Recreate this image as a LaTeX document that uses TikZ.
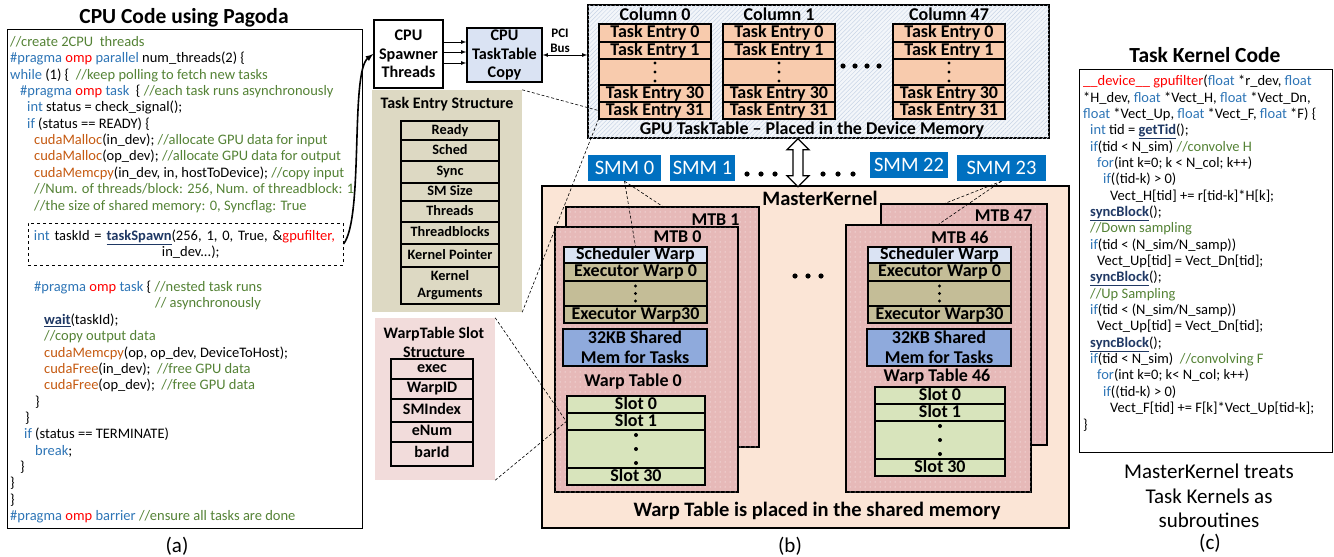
\documentclass[tikz,border=0pt]{standalone}
\usepackage{fontspec}
\setmainfont{Carlito}
\usepackage{xcolor}
\usepackage{tikz}
\usetikzlibrary{patterns.meta}
\usetikzlibrary{calc}

\definecolor{cmtgreen}{RGB}{84,130,53}
\definecolor{kwblue}{RGB}{46,117,182}
\definecolor{ompred}{RGB}{255,0,0}
\definecolor{cubrown}{RGB}{197,90,17}
\definecolor{apinavy}{RGB}{31,56,100}
\definecolor{entrypeach}{RGB}{248,203,173}
\definecolor{gpubg}{RGB}{243,246,250}
\definecolor{gpuhatch}{RGB}{200,212,230}
\definecolor{smmblue}{RGB}{0,112,192}
\definecolor{masterbg}{RGB}{251,229,214}
\definecolor{mtbpink}{RGB}{230,185,184}
\definecolor{schedblue}{RGB}{218,227,243}
\definecolor{exectan}{RGB}{196,189,151}
\definecolor{shmemblue}{RGB}{143,170,220}
\definecolor{slotgreen}{RGB}{216,228,188}
\definecolor{entrybg}{RGB}{221,217,195}
\definecolor{slotbg}{RGB}{242,220,219}
\definecolor{copyblue}{RGB}{218,227,243}

% code colouring
\newcommand{\cmt}[1]{\textcolor{cmtgreen}{#1}}
\newcommand{\kw}[1]{\textcolor{kwblue}{#1}}
\newcommand{\omp}{\textcolor{ompred}{omp}}
\newcommand{\cu}[1]{\textcolor{cubrown}{#1}}
\newcommand{\api}[1]{\textcolor{apinavy}{\underline{\textbf{#1}}}}
\newcommand{\ind}[1]{\hspace*{#1pt}}

% fonts
\newcommand{\codefont}{\fontsize{14.5}{16.35}\selectfont}
\newcommand{\headfont}{\fontsize{21.5}{24}\selectfont\bfseries}
\newcommand{\capfont}{\fontsize{21}{24.5}\selectfont}
\newcommand{\cellfont}{\fontsize{18}{20}\selectfont\bfseries}
\newcommand{\shmfont}{\fontsize{18}{20}\selectfont\bfseries}
\newcommand{\boxfont}{\fontsize{16.2}{18.5}\selectfont\bfseries}
\newcommand{\fieldfont}{\fontsize{14.3}{17}\selectfont\bfseries}
\newcommand{\slotfont}{\fontsize{16}{19}\selectfont\bfseries}
\newcommand{\notefont}{\fontsize{20.5}{22}\selectfont\bfseries}
\newcommand{\gpufont}{\fontsize{18}{20}\selectfont\bfseries}
\newcommand{\smmfont}{\fontsize{20.5}{22}\selectfont}
\newcommand{\pcifont}{\fontsize{13}{15}\selectfont\bfseries}

\begin{document}
\begin{tikzpicture}[x=1pt,y=-1pt,
    frame/.style={draw, line width=1pt, inner sep=0pt},
    cell/.style={draw, line width=1.3pt, inner sep=0pt, font=\cellfont, text height=12.5pt, text depth=3.5pt},
    field/.style={draw, line width=1.3pt, inner sep=0pt, font=\fieldfont, text height=10pt, text depth=3pt},
    slotfield/.style={draw, line width=1.3pt, inner sep=0pt, font=\slotfont, text height=11pt, text depth=3.5pt},
    code/.style={anchor=base west, inner sep=0pt, align=left, font=\codefont},
    leader/.style={dash pattern=on 3pt off 2pt, line width=0.6pt},
    mtbbox/.style={draw, line width=1.3pt, inner sep=0pt, fill=mtbpink,
        postaction={pattern={Dots[distance=5pt,radius=0.5pt]}, pattern color=white}},
    smm/.style={fill=smmblue, text=white, inner sep=0pt, font=\smmfont, minimum height=26}]

\useasboundingbox (0,0) rectangle (1334,557);

%% (a) host side code  (code blocks are placed by their last baseline)
\node[font=\headfont] (titleA) at (184,18) {CPU Code using Pagoda};
\node[frame, minimum width=355, minimum height=499] (codeA) at (184.5,278.5) {};
\node[code] (codeTop) at (10,210) {%
\cmt{//create 2CPU\ \ threads}\\
\kw{\#pragma} \omp{} \kw{parallel} num\_threads(2) \{\\
\kw{while} (1) \{\ \ \cmt{//keep polling to fetch new tasks}\\
\ind{10}\kw{\#pragma} \omp{} \kw{task}\ \ \{ \cmt{//each task runs asynchronously}\\
\ind{17}\kw{int} status = check\_signal();\\
\ind{17}\kw{if} (status == READY) \{\\
\ind{24}\cu{cudaMalloc}(in\_dev); \cmt{//allocate GPU data for input}\\
\ind{24}\cu{cudaMalloc}(op\_dev); \cmt{//allocate GPU data for output}\\
\ind{24}\cu{cudaMemcpy}(in\_dev, in, hostToDevice); \cmt{//copy input}\\
\ind{24}\cmt{//Num. of threads/block: 256, Num. of threadblock: 1}\\
\ind{24}\cmt{//the size of shared memory: 0, Syncflag: True}};
\node[draw, dashed, line width=1pt, inner xsep=6pt, inner ysep=0pt, minimum height=42,
      text width=303pt, align=left, font=\codefont] (spawn) at (185.5,244) {%
\kw{int} taskId = \api{taskSpawn}(256, 1, 0, True, \&\textcolor{ompred}{gpufilter,}\\
\ind{128}in\_dev...);};
\node[code] (codeBot) at (10,520.5) {%
\ind{24}\kw{\#pragma} \omp{} \kw{task} \{ \cmt{//nested task runs}\\
\ind{145}\cmt{// asynchronously}\\
\ind{34}\api{wait}(taskId);\\
\ind{34}\cmt{//copy output data}\\
\ind{34}\cu{cudaMemcpy}(op, op\_dev, DeviceToHost);\\
\ind{34}\cu{cudaFree}(in\_dev);\ \ \cmt{//free GPU data}\\
\ind{34}\cu{cudaFree}(op\_dev);\ \ \cmt{//free GPU data}\\
\ind{25}\}\\
\ind{15}\}\\
\ind{14}\kw{if} (status == TERMINATE)\\
\ind{25}\kw{break};\\
\ind{10}\}\\
\ind{0}\}\\
\ind{0}\}\\
\kw{\#pragma} \omp{} \kw{barrier} \cmt{//ensure all tasks are done}};
\node[font=\capfont] (labA) at (177,546) {(a)};

%% (b) runtime structures
\node[frame, line width=1.5pt, minimum width=69, minimum height=68, align=center, font=\boxfont] (spawner) at (408.5,54) {CPU\\Spawner\\Threads};
\node[frame, line width=1.5pt, fill=copyblue, minimum width=75, minimum height=54, align=center, font=\boxfont] (copy) at (504.5,55) {CPU\\TaskTable\\Copy};
\foreach \yy in {42,52,63}
  \draw[-latex, line width=0.8pt] (spawner.east |- 0,\yy) -- (copy.west |- 0,\yy);
\draw[-latex, line width=1.6pt] (spawn.east) .. controls (364,218) and (350,72) .. (spawner.west);

% GPU task table
\node[frame, line width=1.5pt, fill=gpubg, minimum width=461, minimum height=133,
      postaction={pattern={Lines[angle=45,distance=3pt,line width=0.5pt]}, pattern color=gpuhatch}] (gpu) at (818.5,71.5) {};
\node[font=\pcifont] (pci) at (560,33) {PCI};
\node[font=\pcifont] (bus) at (560,48) {Bus};
\draw[latex-latex, line width=0.8pt] (copy.east) -- (gpu.west |- copy.east);
\foreach \cx/\cn in {655/0,779/1,949/47} {
  \node[font=\cellfont] (col\cn) at (\cx,14) {Column \cn};
  \node[cell, fill=entrypeach, minimum width=112, minimum height=18] (c\cn-0) at (\cx,33) {Task Entry 0};
  \node[cell, fill=entrypeach, minimum width=112, minimum height=17] (c\cn-1) at (\cx,50.5) {Task Entry 1};
  \node[cell, fill=entrypeach, minimum width=112, minimum height=26] (c\cn-d) at (\cx,72) {};
  \node[cell, fill=entrypeach, minimum width=112, minimum height=17] (c\cn-30) at (\cx,93.5) {Task Entry 30};
  \node[cell, fill=entrypeach, minimum width=112, minimum height=17] (c\cn-31) at (\cx,110.5) {Task Entry 31};
  \foreach \dy in {63,72,81}
    \fill (\cx,\dy) circle (1.7pt);
}
\foreach \xx in {843,855,867,879}
  \fill (\xx,66) circle (2.6pt);
\node[font=\gpufont] (gpucap) at (812,130) {GPU TaskTable – Placed in the Device Memory};

% task entry layout
\node[fill=entrybg, minimum width=150, minimum height=222, inner sep=0pt] (tepanel) at (447,201) {};
\node[font=\slotfont] (tetitle) at (447,104) {Task Entry Structure};
\foreach \i/\txt/\yc/\h in {0/Ready/130.5/19, 1/Sched/150.5/21, 2/Sync/172/22, 3/SM Size/192/18,
                            4/Threads/211.5/21, 5/Threadblocks/233/22, 6/Kernel Pointer/255.5/23}
  \node[field, minimum width=98, minimum height=\h] (tf\i) at (450,\yc) {\txt};
\node[draw, line width=1.3pt, inner sep=0pt, minimum width=98, minimum height=37, align=center, font=\fieldfont] (tf7) at (450,285.5) {Kernel\\Arguments};

% warp table slot layout
\node[fill=slotbg, minimum width=120, minimum height=162, inner sep=0pt] (wspanel) at (435,399) {};
\node[font=\slotfont, align=center] (wstitle) at (434,342) {WarpTable Slot\\Structure};
\foreach \i/\txt/\yc/\h in {0/exec/369/20, 1/WarpID/389/20, 2/SMIndex/410.5/23, 3/eNum/432/20, 4/barId/454/24}
  \node[slotfield, minimum width=82, minimum height=\h] (ws\i) at (432,\yc) {\txt};

% master kernel
\node[frame, line width=1.2pt, fill=masterbg, minimum width=527, minimum height=342] (master) at (805.5,357) {};
\node[font=\notefont] (mklabel) at (820,198) {MasterKernel};
\node[font=\notefont] (wtnote) at (817,511) {Warp Table is placed in the shared memory};

\node[mtbbox, minimum width=193, minimum height=240] (mtb1) at (662.5,327) {};
\node[mtbbox, minimum width=166, minimum height=241] (mtb47) at (964,324.5) {};
\node[font=\cellfont] (mtb1lbl) at (715.5,220) {MTB 1};
\node[font=\cellfont] (mtb47lbl) at (1003.5,216) {MTB 47};
\node[mtbbox, minimum width=183, minimum height=265] (mtb0) at (646.5,359.5) {};
\node[mtbbox, minimum width=185, minimum height=267] (mtb46) at (938.5,358.5) {};
\node[font=\cellfont] (mtb0lbl) at (677.5,237) {MTB 0};
\node[font=\cellfont] (mtb46lbl) at (960,237) {MTB 46};

\foreach \g/\ox/\sy/\sw/\wy in {0/0/0/138/382, 46/304/-9/130/377} {
  \node[cell, fill=schedblue, minimum width=143, minimum height=16] (sch\g) at (635.5+\ox,255) {Scheduler Warp};
  \node[cell, fill=exectan, minimum width=143, minimum height=18] (ex\g-0) at (635.5+\ox,272) {Executor Warp 0};
  \node[cell, fill=exectan, minimum width=143, minimum height=25] (ex\g-d) at (635.5+\ox,293.5) {};
  \node[cell, fill=exectan, minimum width=143, minimum height=17] (ex\g-30) at (635.5+\ox,314.5) {Executor Warp30};
  \foreach \dy in {286,293.5,301}
    \fill (635.5+\ox,\dy) circle (1.7pt);
  \node[draw, line width=1.3pt, inner sep=0pt, fill=shmemblue, minimum width=144, minimum height=37,
        align=center, font=\shmfont] (shm\g) at (635+\ox,347.5) {32KB Shared\\Mem for Tasks};
  \node[font=\cellfont] (wt\g) at (633+\ox,\wy) {Warp Table \g};
  \node[cell, fill=slotgreen, minimum width=\sw, minimum height=17] (s\g-0) at (636+\ox,404.5+\sy) {Slot 0};
  \node[cell, fill=slotgreen, minimum width=\sw, minimum height=17] (s\g-1) at (636+\ox,421.5+\sy) {Slot 1};
  \node[cell, fill=slotgreen, minimum width=\sw, minimum height=38] (s\g-d) at (636+\ox,449+\sy) {};
  \node[cell, fill=slotgreen, minimum width=\sw, minimum height=17] (s\g-30) at (636+\ox,476.5+\sy) {Slot 30};
  \foreach \dy in {435,449,463}
    \fill (636+\ox,\dy+\sy) circle (2pt);
}
\foreach \xx in {795,808,821}
  \fill (\xx,276) circle (2.6pt);

% SMMs and the device memory link
\node[smm, minimum width=73] (smm0) at (624.5,168) {SMM 0};
\node[smm, minimum width=65] (smm1) at (702.5,168) {SMM 1};
\node[smm, minimum width=78] (smm22) at (909,165) {SMM 22};
\node[smm, minimum width=89] (smm23) at (1001.5,168) {SMM 23};
\foreach \xx in {747,761,775,823,838,853}
  \fill (\xx,174) circle (2.6pt);
\coordinate (busTop) at (gpu.south -| 798,0);
\draw[line width=1.3pt, fill=white] (busTop) -- ++(11,11) -- ++(-6,0) -- ++(0,26) -- ++(6,0) -- ++(-11,11)
      -- ++(-11,-11) -- ++(6,0) -- ++(0,-26) -- ++(-6,0) -- cycle;

% zoom-in leaders
\draw[leader] (tepanel.north east) -- (c0-31.west);
\draw[leader] (tepanel.south east) -- (c0-31.south west);
\draw[leader] (wspanel.north east) -- (s0-1.west);
\draw[leader] (wspanel.south east) -- (s0-1.west);
\draw[leader] (smm0.south) -- (mtb1.north);
\draw[leader] (smm0.south) -- (sch0.north);
\draw[leader] (smm23.south) -- ([xshift=-19pt]mtb47.north);
\draw[leader] (smm23.south) -- (mtb46.north);
\node[font=\capfont] (labB) at (790,546) {(b)};

%% (c) task kernel
\node[font=\headfont] (titleC) at (1205,55) {Task Kernel Code};
\node[frame, minimum width=253, minimum height=383] (codeC) at (1205.5,260.5) {};
\node[code] (kern) at (1083,429) {%
\textcolor{ompred}{\_\_device\_\_\ gpufilter}(\kw{float} *r\_dev, \kw{float}\\
\ind{0}*H\_dev, \kw{float} *Vect\_H, \kw{float} *Vect\_Dn,\\
\kw{float} *Vect\_Up, \kw{float} *Vect\_F, \kw{float} *F) \{\\
\ind{7}\kw{int} tid = \api{getTid}();\\
\ind{7}\kw{if}(tid < N\_sim) \cmt{//convolve H}\\
\ind{14}\kw{for}(int k=0; k < N\_col; k++)\\
\ind{20}\kw{if}((tid-k) > 0)\\
\ind{27}Vect\_H[tid] += r[tid-k]*H[k];\\
\ind{7}\api{syncBlock}();\\
\ind{7}\cmt{//Down sampling}\\
\ind{7}\kw{if}(tid < (N\_sim/N\_samp))\\
\ind{14}Vect\_Up[tid] = Vect\_Dn[tid];\\
\ind{7}\api{syncBlock}();\\
\ind{7}\cmt{//Up Sampling}\\
\ind{7}\kw{if}(tid < (N\_sim/N\_samp))\\
\ind{14}Vect\_Up[tid] = Vect\_Dn[tid];\\
\ind{7}\api{syncBlock}();\\
\ind{7}\kw{if}(tid < N\_sim)\ \ \cmt{//convolving F}\\
\ind{14}\kw{for}(int k=0; k< N\_col; k++)\\
\ind{20}\kw{if}((tid-k) > 0)\\
\ind{27}Vect\_F[tid] += F[k]*Vect\_Up[tid-k];\\
\}};
\node[font=\capfont, align=center] (kernnote) at (1209,496) {MasterKernel treats\\Task Kernels as\\subroutines};
\node[font=\capfont] (labC) at (1210,543) {(c)};
\end{tikzpicture}
\end{document}
